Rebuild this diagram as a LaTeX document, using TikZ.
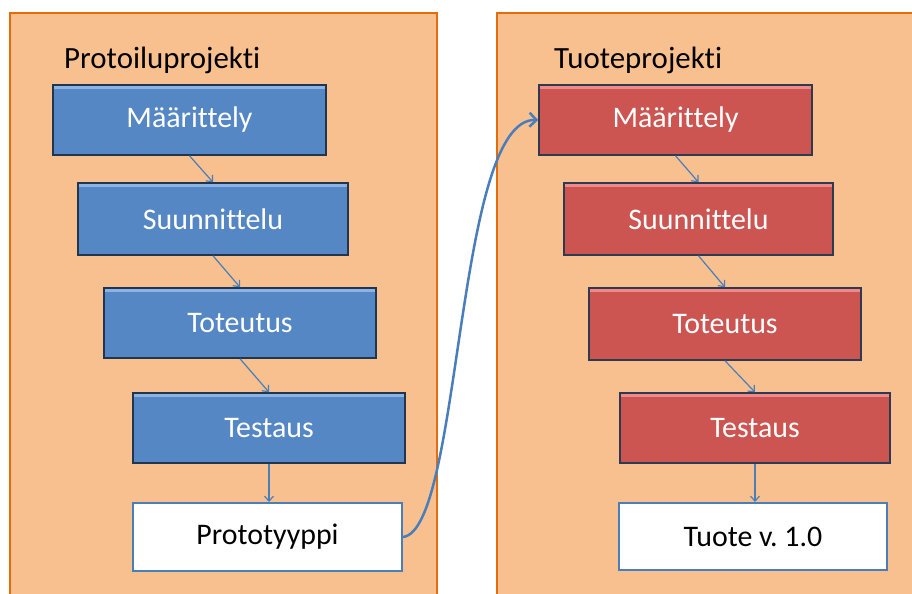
\documentclass[tikz,border=0pt]{standalone}
\usepackage{fontspec}
\setmainfont{Carlito}[Ligatures=NoCommon]
\usetikzlibrary{arrows.meta}
\frenchspacing
\definecolor{panelfill}{HTML}{F9C08F}
\definecolor{panelline}{HTML}{E46C0A}
\definecolor{bluefill}{HTML}{5587C5}
\definecolor{bluelight}{HTML}{8DB3E2}
\definecolor{bluedark}{HTML}{1F3550}
\definecolor{redfill}{HTML}{CC5552}
\definecolor{redlight}{HTML}{F08A88}
\definecolor{reddark}{HTML}{2E3A52}
\definecolor{arrowblue}{HTML}{4A7EBB}
\tikzset{
  panel/.style={fill=panelfill, draw=panelline, line width=2.5bp},
  title/.style={font=\fontsize{31}{34}\selectfont, text=black, anchor=west, inner sep=0pt},
  bevel/.style={minimum width=#1, inner sep=0pt, font=\fontsize{30}{33}\selectfont, text=white},
  bluebox/.style={bevel=#1, fill=bluefill, draw=bluedark, line width=1.5bp,
    path picture={\fill[bluelight] (path picture bounding box.north west) rectangle ([yshift=-4bp]path picture bounding box.north east);}},
  redbox/.style={bevel=#1, fill=redfill, draw=reddark, line width=1.5bp,
    path picture={\fill[redlight] (path picture bounding box.north west) rectangle ([yshift=-4bp]path picture bounding box.north east);}},
  whitebox/.style={minimum width=#1, inner sep=0pt, font=\fontsize{30}{33}\selectfont, text=black, fill=white, draw=arrowblue, line width=2bp},
  flow/.style={draw=arrowblue, line width=1.2bp, -{Straight Barb[length=5bp,width=9bp]}},
  bigflow/.style={draw=arrowblue, line width=2.5bp, -{Straight Barb[length=7bp,width=14bp,line width=2.5bp]}}
}
\begin{document}
\begin{tikzpicture}[x=1bp,y=-1bp]
\useasboundingbox (0,0) rectangle (912,594);
\fill[white] (0,0) rectangle (912,594);
\draw[panel] (10,13) rectangle (437,610);
\draw[panel] (497,13) rectangle (930,610);
\node[title] (t1) at (64,60) {Protoiluprojekti};
\node[title] (t2) at (554,60) {Tuoteprojekti};
% left column
\node[bluebox=273bp, minimum height=70bp] (l1) at (189.5,120) {Määrittely};
\node[bluebox=270bp, minimum height=72bp] (l2) at (213,219) {Suunnittelu};
\node[bluebox=272bp, minimum height=70bp] (l3) at (240,323) {Toteutus};
\node[bluebox=272bp, minimum height=70bp] (l4) at (269,428) {Testaus};
\node[whitebox=269bp, minimum height=68bp] (l5) at (267.5,537) {Prototyyppi};
% right column
\node[redbox=273bp, minimum height=70bp] (r1) at (675.5,120) {Määrittely};
\node[redbox=269bp, minimum height=72bp] (r2) at (698.5,219) {Suunnittelu};
\node[redbox=272bp, minimum height=72bp] (r3) at (725,324) {Toteutus};
\node[redbox=270bp, minimum height=70bp] (r4) at (755,428) {Testaus};
\node[whitebox=268bp, minimum height=67bp] (r5) at (753,536.5) {Tuote v. 1.0};
% arrows
\draw[flow] (l1.south) -- (l2.north);
\draw[flow] (l2.south) -- (l3.north);
\draw[flow] (l3.south) -- (l4.north);
\draw[flow] (l4.south) -- (l4.south |- l5.north);
\draw[flow] (r1.south) -- (r2.north);
\draw[flow] (r2.south) -- (r3.north);
\draw[flow] (r3.south) -- (r4.north);
\draw[flow] (r4.south) -- (r4.south |- r5.north);
\draw[bigflow] (l5.east) .. controls (462,530) and (455,118) .. (r1.west);
\end{tikzpicture}
\end{document}
